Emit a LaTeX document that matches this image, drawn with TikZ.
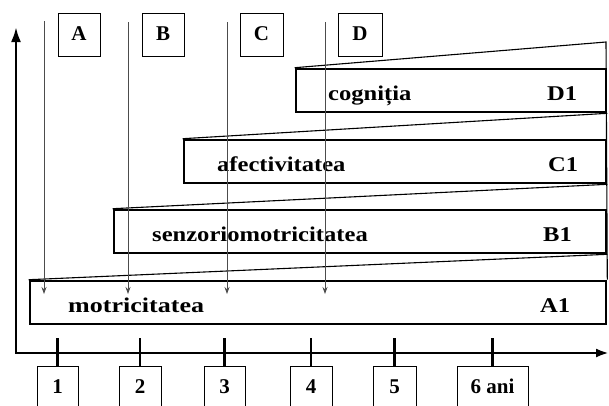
\documentclass[tikz,border=0pt]{standalone}
\usepackage{fontspec}
\setmainfont{Liberation Serif}
\usetikzlibrary{arrows.meta}
\begin{document}
\begin{tikzpicture}[x=1pt,y=-1pt,
  band/.style={draw=black, line width=2.6pt, inner sep=0pt, minimum height=43pt},
  tagbox/.style={draw=black, line width=0.8pt, inner xsep=0pt, inner ysep=13.5pt, text height=14pt, text depth=2pt, font=\bfseries\fontsize{21}{25}\selectfont},
  numbox/.style={draw=black, line width=0.8pt, anchor=north, inner xsep=0pt, inner ysep=13pt, text height=14pt, text depth=30pt, font=\bfseries\fontsize{21}{25}\selectfont},
  lbl/.style={inner sep=0pt, anchor=base west, font=\bfseries\fontsize{21}{25}\selectfont},
  wedge/.style={draw=black, line width=1.1pt},
  guide/.style={draw=black!70, line width=0.8pt, -{Stealth[length=7pt,width=5pt]}},
  axis/.style={draw=black, line width=2.6pt, {Latex[length=15pt,width=10pt]}-{Latex[length=13pt,width=9pt]}},
  tick/.style={draw=black, line width=2.6pt}]
\useasboundingbox (0,0) rectangle (609,405);
\clip (0,0) rectangle (609,405);

% bands
\node[band, minimum width=310pt] (d1) at (451,90.5) {};
\node[band, minimum width=422pt] (c1) at (395,161.5) {};
\node[band, minimum width=492pt] (b1) at (360,231.5) {};
\node[band, minimum width=576pt] (a1) at (318,302.5) {};
\coordinate (tr) at (606,42);

% wedges
\draw[wedge] (d1.north west) -- (tr) -- (a1.north east);
\draw[wedge] (c1.north west) -- (d1.south east);
\draw[wedge] (b1.north west) -- (c1.south east);
\draw[wedge] (a1.north west) -- (b1.south east);

% labels
\node[lbl] (lcog) at (328,100) {\scalebox{1.17}[1]{cogniția}};
\node[lbl] (ld1) at (547,100) {\scalebox{1.17}[1]{D1}};
\node[lbl] (lafe) at (217,171) {\scalebox{1.17}[1]{afectivitatea}};
\node[lbl] (lc1) at (548,171) {\scalebox{1.17}[1]{C1}};
\node[lbl] (lsen) at (152,241.5) {\scalebox{1.17}[1]{senzoriomotricitatea}};
\node[lbl] (lb1) at (543,241.5) {\scalebox{1.17}[1]{B1}};
\node[lbl] (lmot) at (68,312) {\scalebox{1.24}[1]{motricitatea}};
\node[lbl] (la1) at (540,312) {\scalebox{1.17}[1]{A1}};

% letter boxes
\node[tagbox, minimum width=42pt] (ta) at (79,34.5) {A};
\node[tagbox, minimum width=42pt] (tb) at (163,34.5) {B};
\node[tagbox, minimum width=43pt] (tc) at (261.5,34.5) {C};
\node[tagbox, minimum width=44pt] (td) at (360,34.5) {D};

% guide arrows
\coordinate (ga0) at (44,21);  \coordinate (ga1) at (44,294);
\coordinate (gb0) at (128,22); \coordinate (gb1) at (128,294);
\coordinate (gc0) at (227,22); \coordinate (gc1) at (227,294);
\coordinate (gd0) at (325,22); \coordinate (gd1) at (325,294);
\draw[guide] (ga0) -- (ga1);
\draw[guide] (gb0) -- (gb1);
\draw[guide] (gc0) -- (gc1);
\draw[guide] (gd0) -- (gd1);

% axes
\coordinate (O) at (16,353);
\coordinate (ytop) at (16,27);
\coordinate (xend) at (609,353);
\draw[axis] (ytop) -- (O) -- (xend);

% number boxes and ticks
\node[numbox, minimum width=41pt] (n1) at (57.5,366) {1};
\node[numbox, minimum width=42pt] (n2) at (140,366) {2};
\node[numbox, minimum width=41pt] (n3) at (224.5,366) {3};
\node[numbox, minimum width=42pt] (n4) at (311,366) {4};
\node[numbox, minimum width=43pt] (n5) at (394.5,366) {5};
\node[numbox, minimum width=71pt] (n6) at (492.5,366) {6 ani};
\foreach \n in {n1,n2,n3,n4,n5,n6} \draw[tick] (\n.north) -- ++(0,-28);
\end{tikzpicture}
\end{document}
